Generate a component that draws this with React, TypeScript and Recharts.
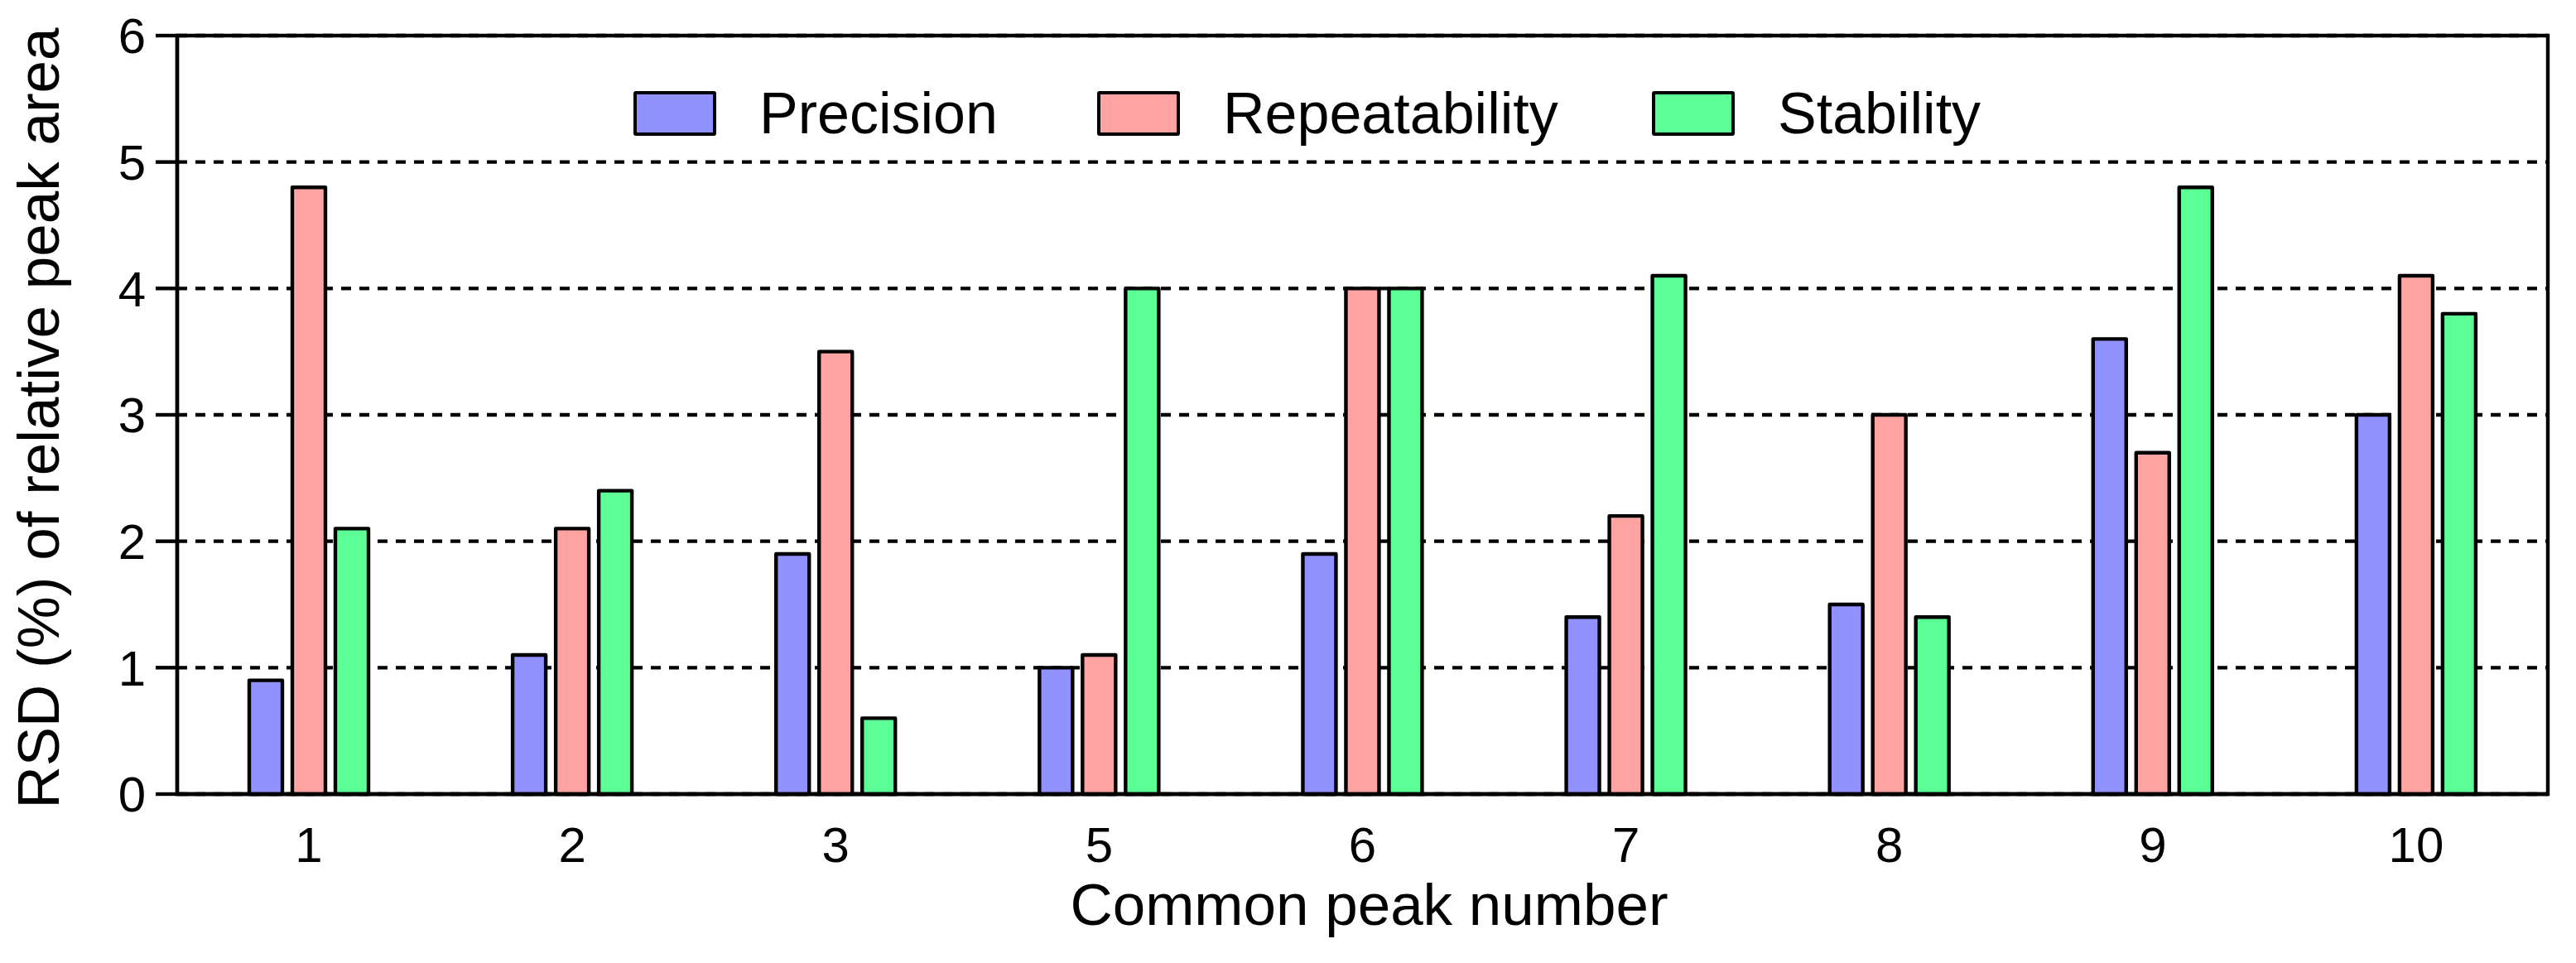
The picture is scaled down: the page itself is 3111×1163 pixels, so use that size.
import {
  BarChart,
  Bar,
  XAxis,
  YAxis,
  CartesianGrid,
  Legend,
  ReferenceArea,
  Label,
} from 'recharts'

const peaks = ['1', '2', '3', '5', '6', '7', '8', '9', '10']
const precision = [0.9, 1.1, 1.9, 1.0, 1.9, 1.4, 1.5, 3.6, 3.0]
const repeatability = [4.8, 2.1, 3.5, 1.1, 4.0, 2.2, 3.0, 2.7, 4.1]
const stability = [2.1, 2.4, 0.6, 4.0, 4.0, 4.1, 1.4, 4.8, 3.8]
const yTicks = [0, 1, 2, 3, 4, 5, 6]

const series = [
  { key: 'precision', name: 'Precision', color: '#9191ff' },
  { key: 'repeatability', name: 'Repeatability', color: '#ffa3a3' },
  { key: 'stability', name: 'Stability', color: '#5cff96' },
]

// widths of the legend slots (swatch + label + gap)
const legendSlots = [560, 670, 400]

const FONT = '"Liberation Sans", Arial, sans-serif'
const LINE = 4.4

const data = peaks.map((peak, i) => ({
  peak,
  precision: precision[i],
  repeatability: repeatability[i],
  stability: stability[i],
}))

function SwatchLegend() {
  return (
    <div style={{ display: 'flex', alignItems: 'center', fontFamily: FONT, fontSize: 70, color: '#000' }}>
      {series.map((s, i) => (
        <div key={s.key} style={{ display: 'flex', alignItems: 'center', width: legendSlots[i] }}>
          <div
            style={{
              width: 100,
              height: 54,
              boxSizing: 'border-box',
              border: '4px solid #000',
              borderRadius: 3,
              background: s.color,
              marginRight: 52,
              flexShrink: 0,
            }}
          />
          <span style={{ lineHeight: 1, whiteSpace: 'nowrap' }}>{s.name}</span>
        </div>
      ))}
    </div>
  )
}

function YTitle({ viewBox }: { viewBox?: { x: number; y: number; width: number; height: number } }) {
  if (!viewBox) return null
  const x = viewBox.x + 38
  const y = viewBox.y + viewBox.height / 2 + 4
  return (
    <text
      x={x}
      y={y}
      dy="0.355em"
      textAnchor="middle"
      transform={`rotate(-90, ${x}, ${y})`}
      fontFamily={FONT}
      fontSize={71}
      fill="#000"
    >
      RSD (%) of relative peak area
    </text>
  )
}

export default function App() {
  const axisStroke = { stroke: '#000', strokeWidth: LINE }
  return (
    <BarChart
      width={3095}
      height={1147}
      data={data}
      margin={{ top: 35, right: 26, left: 0, bottom: 0 }}
      barSize={40}
      barGap={12}
    >
      <CartesianGrid vertical={false} stroke="#000" strokeWidth={LINE} strokeDasharray="12 10" />
      <XAxis
        dataKey="peak"
        height={196}
        axisLine={axisStroke}
        tickLine={false}
        tickSize={0}
        tickMargin={39}
        tick={{ fontSize: 60, fill: '#000', fontFamily: FONT }}
      >
        <Label
          value="Common peak number"
          position="insideBottom"
          offset={38}
          dx={8}
          fontSize={71}
          fill="#000"
          fontFamily={FONT}
        />
      </XAxis>
      <YAxis
        width={206}
        domain={[0, 6]}
        ticks={yTicks}
        interval={0}
        axisLine={axisStroke}
        tickLine={axisStroke}
        tickSize={26}
        tickMargin={12}
        tick={{ fontSize: 60, fill: '#000', fontFamily: FONT }}
      >
        <Label content={<YTitle />} />
      </YAxis>
      <Legend
        layout="horizontal"
        verticalAlign="middle"
        align="center"
        wrapperStyle={{ top: 94, left: 757, width: 'auto' }}
        content={<SwatchLegend />}
      />
      {series.map(s => (
        <Bar
          key={s.key}
          dataKey={s.key}
          name={s.name}
          fill={s.color}
          stroke="#000"
          strokeWidth={LINE}
          strokeLinejoin="round"
          isAnimationActive={false}
        />
      ))}
      <ReferenceArea y1={0} y2={6} fill="none" stroke="#000" strokeWidth={LINE} />
    </BarChart>
  )
}
